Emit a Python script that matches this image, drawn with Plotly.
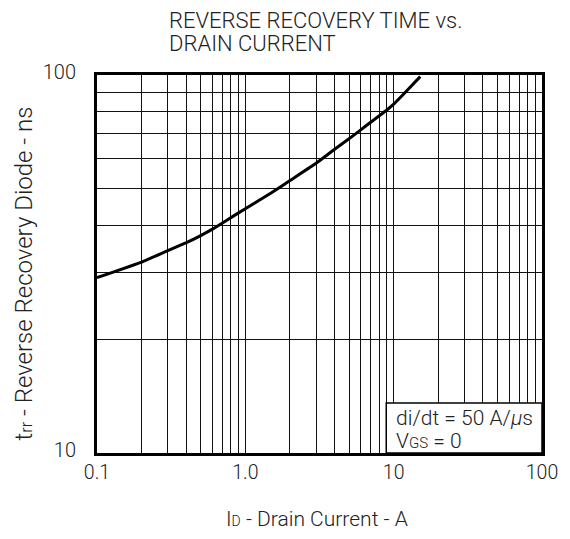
import plotly.graph_objects as go

# Data
drain_current_A = [0.1, 0.2, 0.3, 0.4, 0.5, 0.6, 0.75, 1.0, 1.5, 2.0, 3.0, 4.0, 5.0, 6.0, 7.0, 8.0, 9.0, 10.0, 11.6, 15.1]
trr_ns = [29.1, 32.0, 34.3, 36.0, 37.6, 39.1, 41.3, 44.3, 48.8, 52.6, 58.4, 63.6, 67.8, 71.6, 75.0, 78.0, 80.8, 83.7, 88.8, 99.0]

x_grid = [m * 10 ** e for e in (-1, 0, 1) for m in range(1, 10)] + [100]
x_labels = {0.1: "0.1", 1: "1.0", 10: "10", 100: "100"}
y_grid = [m * 10 for m in range(1, 10)] + [100]
y_labels = {10: "10", 100: "100"}

title_lines = ["REVERSE RECOVERY TIME vs.", "DRAIN CURRENT"]
note_lines = ["di/dt = 50 A/<i>µ</i>s", "V<span style='font-size:15px'>GS</span> = 0"]

FONT = "Roboto"
TXT = "#222"
W = 300

fig = go.Figure()
fig.add_trace(go.Scatter(x=drain_current_A, y=trr_ns, mode="lines",
                         line=dict(color="black", width=3, shape="spline", smoothing=0.3),
                         showlegend=False, hoverinfo="skip"))


def lab(v, d):
    for k, t in d.items():
        if abs(v - k) < 1e-9 * max(1, k):
            return t
    return ""


fig.update_xaxes(type="log", range=[-1, 2], tickvals=x_grid,
                 ticktext=[lab(v, x_labels) for v in x_grid],
                 showgrid=True, gridcolor="#111", gridwidth=1,
                 showline=True, linecolor="black", linewidth=3, mirror=True,
                 ticks="", zeroline=False,
                 tickfont=dict(family=FONT, size=19.5, color=TXT, weight=W))
fig.update_yaxes(type="log", range=[1, 2], tickvals=y_grid,
                 ticktext=[lab(v, y_labels) for v in y_grid],
                 showgrid=True, gridcolor="#111", gridwidth=1,
                 showline=True, linecolor="black", linewidth=3, mirror=True,
                 ticks="", ticklabelstandoff=14, ticklabelshift=-3, zeroline=False,
                 tickfont=dict(family=FONT, size=20, color=TXT, weight=W))

fig.add_shape(type="rect", xref="paper", yref="paper", x0=0.650, x1=1.0, y0=0.0, y1=0.132,
              fillcolor="white", line=dict(color="black", width=1.5), layer="above")

note_font = dict(family=FONT, size=21, color=TXT, weight=W)
for txt, yy in zip(note_lines, [0.092, 0.032]):
    fig.add_annotation(xref="paper", yref="paper", x=0.667, y=yy, xanchor="left", yanchor="middle",
                       text=txt, showarrow=False, font=note_font)

title_font = dict(family=FONT, size=22, color=TXT, weight=W)
for txt, yy in zip(title_lines, [1.144, 1.083]):
    fig.add_annotation(xref="paper", yref="paper", x=0.158, y=yy, xanchor="left", yanchor="middle",
                       text=txt, showarrow=False, font=title_font)

fig.add_annotation(xref="paper", yref="paper", x=-0.165, y=0.474, xanchor="center", yanchor="middle",
                   textangle=-90, text="t<span style='font-size:16px'>rr</span> - Reverse Recovery Diode - ns",
                   showarrow=False, font=dict(family=FONT, size=24, color=TXT, weight=W))
fig.add_annotation(xref="paper", yref="paper", x=0.4945, y=-0.1737, xanchor="center", yanchor="middle",
                   text="I<span style='font-size:14px'>D</span> - Drain Current - A",
                   showarrow=False, font=dict(family=FONT, size=21, color=TXT, weight=W))

# page body has an 8px margin: figure sized so the plot area lands at x 97..552, y 75..453
fig.update_layout(width=562, height=531, margin=dict(l=89, r=18, t=67, b=86),
                  plot_bgcolor="white", paper_bgcolor="white",
                  font=dict(family=FONT, color=TXT))

fig.write_html("out.html", config={"displayModeBar": False})
